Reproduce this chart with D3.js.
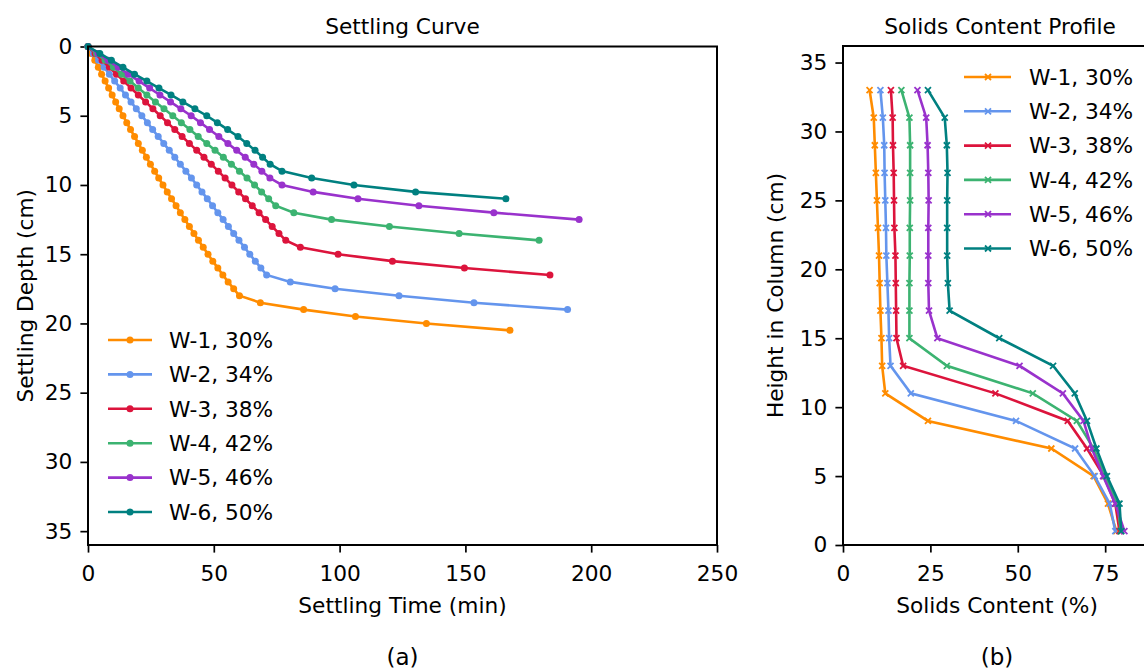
<!DOCTYPE html>
<html>
<head>
<meta charset="utf-8">
<script src="https://cdn.jsdelivr.net/npm/d3@7"></script>
<style>
body{margin:0;background:#fff;}
svg text{font-family:"DejaVu Sans",sans-serif;fill:#000;}
</style>
</head>
<body>
<div id="chart"></div>
<script>
// series names / colors
const seriesNames = ["W-1, 30%","W-2, 34%","W-3, 38%","W-4, 42%","W-5, 46%","W-6, 50%"];
const seriesColors = ["#FF8C00","#6495ED","#DC143C","#3CB371","#9932CC","#008080"];

// (a) settling curve: time (min) vs depth (cm)
const timeW1 = [0,1.3,2.7,4.1,5.4,6.8,8.2,9.6,11.0,12.4,13.9,15.4,16.9,18.5,20.0,21.6,23.2,24.8,26.5,28.1,29.8,31.5,33.2,35.0,36.7,38.5,40.3,42.1,43.9,45.8,47.7,49.6,51.6,53.6,55.7,57.9,60.2,68.5,85.7,106.3,134.5,167.7];
const depthW1 = [0,0.5,1,1.5,2,2.5,3,3.5,4,4.5,5,5.5,6,6.5,7,7.5,8,8.5,9,9.5,10,10.5,11,11.5,12,12.5,13,13.5,14,14.5,15,15.5,16,16.5,17,17.5,18,18.5,19,19.5,20,20.5];
const timeW2 = [0,2.1,4.2,6.4,8.5,10.6,12.8,14.9,17.1,19.2,21.4,23.6,25.7,27.9,30.1,32.3,34.5,36.7,38.9,41.1,43.2,45.3,47.4,49.5,51.6,53.7,55.8,57.9,60.0,62.2,64.3,66.5,68.7,71.0,80.4,98.2,123.6,153.4,190.6];
const depthW2 = [0,0.5,1,1.5,2,2.5,3,3.5,4,4.5,5,5.5,6,6.5,7,7.5,8,8.5,9,9.5,10,10.5,11,11.5,12,12.5,13,13.5,14,14.5,15,15.5,16,16.5,17,17.5,18,18.5,19];
const timeW3 = [0,2.8,5.6,8.5,11.3,14.2,17.1,20.0,22.9,25.8,28.7,31.6,34.5,37.4,40.3,43.2,46.1,49.0,51.8,54.5,57.2,59.9,62.6,65.3,68.0,70.6,73.2,75.9,78.6,84.4,99.4,121.0,149.6,183.6];
const depthW3 = [0,0.5,1,1.5,2,2.5,3,3.5,4,4.5,5,5.5,6,6.5,7,7.5,8,8.5,9,9.5,10,10.5,11,11.5,12,12.5,13,13.5,14,14.5,15,15.5,16,16.5];
const timeW4 = [0,3.4,6.8,10.1,13.4,16.7,20.0,23.4,26.8,30.2,33.7,37.1,40.5,43.8,47.2,50.5,53.8,57.0,60.2,63.2,66.2,69.0,71.8,74.6,81.8,96.8,119.8,147.5,179.3];
const depthW4 = [0,0.5,1,1.5,2,2.5,3,3.5,4,4.5,5,5.5,6,6.5,7,7.5,8,8.5,9,9.5,10,10.5,11,11.5,12,12.5,13,13.5,14];
const timeW5 = [0,4.0,8.0,12.0,16.0,20.3,24.5,28.6,32.8,36.9,41.0,44.7,48.3,52.0,55.6,59.1,62.5,65.9,69.1,72.3,77.1,89.5,107.3,131.5,161.3,195.2];
const depthW5 = [0,0.5,1,1.5,2,2.5,3,3.5,4,4.5,5,5.5,6,6.5,7,7.5,8,8.5,9,9.5,10,10.5,11,11.5,12,12.5];
const timeW6 = [0,4.7,9.3,13.9,18.5,23.4,28.2,33.0,37.7,42.5,47.2,51.4,55.5,59.6,63.1,66.4,69.4,72.4,77.1,88.9,105.7,130.2,166.1];
const depthW6 = [0,0.5,1,1.5,2,2.5,3,3.5,4,4.5,5,5.5,6,6.5,7,7.5,8,8.5,9,9.5,10,10.5,11];

// (b) solids content profile: height (cm) vs solids (%)
const profileHeight = [33,31,29,27,25,23,21,19,17,15,13,11,9,7,5,3,1];
const solidsW1 = [7.6,8.8,9.1,9.4,9.7,10.0,10.3,10.5,10.7,11.0,11.2,12.1,24.3,59.6,71.7,75.8,78.2];
const solidsW2 = [10.7,11.4,11.8,11.9,12.1,12.3,12.4,12.7,13.0,13.2,13.6,19.4,49.5,66.4,72.0,76.3,77.9];
const solidsW3 = [13.7,14.2,14.3,14.5,14.6,14.7,15.0,15.1,15.2,15.3,17.2,43.6,64.3,69.8,74.6,77.9,79.1];
const solidsW4 = [16.7,19.0,19.2,19.2,19.2,19.1,19.1,19.0,19.0,19.0,29.7,54.3,66.9,71.7,75.0,78.5,79.5];
const solidsW5 = [21.3,23.8,24.2,24.4,24.5,24.4,24.4,24.4,24.6,27.0,50.5,62.9,68.8,71.2,74.4,77.9,80.5];
const solidsW6 = [24.3,29.1,29.7,29.9,29.8,29.8,29.8,30.0,30.5,44.7,60.1,66.3,69.8,72.5,75.5,79.1,79.6];

const leftTicksX = [0,50,100,150,200,250];
const leftTicksY = [0,5,10,15,20,25,30,35];
const rightTicksX = [0,25,50,75];
const rightTicksY = [0,5,10,15,20,25,30,35];

const settleTimes = [timeW1,timeW2,timeW3,timeW4,timeW5,timeW6];
const settleDepths = [depthW1,depthW2,depthW3,depthW4,depthW5,depthW6];
const solidsAll = [solidsW1,solidsW2,solidsW3,solidsW4,solidsW5,solidsW6];

const fs = 21.7; // base font size
const svg = d3.select("#chart").append("svg")
    .attr("width",1144).attr("height",670);

function styleAxis(g){
    g.select(".domain").remove();
    g.selectAll(".tick line").attr("stroke","#000").attr("stroke-width",1.7);
    g.selectAll(".tick text").style("font-size",fs+"px");
}

function makePanel(box, xDomain, yDomain, xTicks, yTicks){
    const x = d3.scaleLinear().domain(xDomain).range([box.left, box.right]);
    const y = d3.scaleLinear().domain(yDomain).range([box.bottom, box.top]);
    svg.append("g")
        .attr("transform","translate(0,"+box.bottom+")")
        .call(d3.axisBottom(x).tickValues(xTicks).tickFormat(d3.format("d")).tickSize(7.6).tickPadding(8))
        .call(styleAxis)
        .selectAll(".tick text").attr("dy","0.95em");
    svg.append("g")
        .attr("transform","translate("+box.left+",0)")
        .call(d3.axisLeft(y).tickValues(yTicks).tickFormat(d3.format("d")).tickSize(7.6).tickPadding(8))
        .call(styleAxis);
    return {x, y};
}

function frame(box){
    svg.append("rect")
        .attr("x",box.left).attr("y",box.top)
        .attr("width",box.right-box.left).attr("height",box.bottom-box.top)
        .attr("fill","none").attr("stroke","#000").attr("stroke-width",2);
}

// ---------- panel (a)
const boxA = {left:88, right:717, top:46.5, bottom:545};
// inverted depth axis: 0 on top
const a = makePanel(boxA, [0,250], [36,0], leftTicksX, leftTicksY);

const lineA = d3.line().x(d=>a.x(d[0])).y(d=>a.y(d[1]));
settleTimes.forEach((times,i)=>{
    const pts = times.map((t,j)=>[t, settleDepths[i][j]]);
    const g = svg.append("g");
    g.append("path").datum(pts)
        .attr("d",lineA).attr("fill","none")
        .attr("stroke",seriesColors[i]).attr("stroke-width",2.6);
    g.selectAll("circle").data(pts).join("circle")
        .attr("cx",d=>a.x(d[0])).attr("cy",d=>a.y(d[1]))
        .attr("r",3.5).attr("fill",seriesColors[i]);
});
frame(boxA);

// legend (a)
const legA = svg.append("g");
seriesNames.forEach((name,i)=>{
    const yy = 340 + i*34.4;
    legA.append("line").attr("x1",108).attr("x2",152).attr("y1",yy).attr("y2",yy)
        .attr("stroke",seriesColors[i]).attr("stroke-width",2.6);
    legA.append("circle").attr("cx",130).attr("cy",yy).attr("r",3.5).attr("fill",seriesColors[i]);
    legA.append("text").attr("x",169).attr("y",yy).attr("dy","0.36em")
        .style("font-size",fs+"px").text(name);
});

svg.append("text").attr("x",(boxA.left+boxA.right)/2).attr("y",34)
    .attr("text-anchor","middle").style("font-size","21.7px").text("Settling Curve");
svg.append("text").attr("x",(boxA.left+boxA.right)/2).attr("y",613)
    .attr("text-anchor","middle").style("font-size",fs+"px").text("Settling Time (min)");
svg.append("text").attr("transform","translate(33,"+((boxA.top+boxA.bottom)/2)+") rotate(-90)")
    .attr("text-anchor","middle").style("font-size",fs+"px").text("Settling Depth (cm)");
svg.append("text").attr("x",(boxA.left+boxA.right)/2).attr("y",665)
    .attr("text-anchor","middle").style("font-size","23px").text("(a)");

// ---------- panel (b)
const boxB = {left:843, right:1157.6, top:46, bottom:545};
const b = makePanel(boxB, [0,90], [0,36.2], rightTicksX, rightTicksY);

const lineB = d3.line().x(d=>b.x(d[0])).y(d=>b.y(d[1]));
const xMark = (cx,cy,s)=>"M"+(cx-s)+","+(cy-s)+"L"+(cx+s)+","+(cy+s)+"M"+(cx-s)+","+(cy+s)+"L"+(cx+s)+","+(cy-s);
solidsAll.forEach((vals,i)=>{
    const pts = vals.map((v,j)=>[v, profileHeight[j]]);
    const g = svg.append("g");
    g.append("path").datum(pts)
        .attr("d",lineB).attr("fill","none")
        .attr("stroke",seriesColors[i]).attr("stroke-width",2.6);
    g.selectAll(".mk").data(pts).join("path")
        .attr("class","mk")
        .attr("d",d=>xMark(b.x(d[0]),b.y(d[1]),3))
        .attr("stroke",seriesColors[i]).attr("stroke-width",1.8);
});
frame(boxB);

const legB = svg.append("g");
seriesNames.forEach((name,i)=>{
    const yy = 77 + i*34.3;
    legB.append("line").attr("x1",964).attr("x2",1011).attr("y1",yy).attr("y2",yy)
        .attr("stroke",seriesColors[i]).attr("stroke-width",2.6);
    legB.append("path").attr("d",xMark(988,yy,3))
        .attr("stroke",seriesColors[i]).attr("stroke-width",1.8);
    legB.append("text").attr("x",1029).attr("y",yy).attr("dy","0.36em")
        .style("font-size",fs+"px").text(name);
});

svg.append("text").attr("x",1000).attr("y",34)
    .attr("text-anchor","middle").style("font-size","21.7px").text("Solids Content Profile");
svg.append("text").attr("x",997).attr("y",613)
    .attr("text-anchor","middle").style("font-size",fs+"px").text("Solids Content (%)");
svg.append("text").attr("transform","translate(783,"+((boxB.top+boxB.bottom)/2)+") rotate(-90)")
    .attr("text-anchor","middle").style("font-size",fs+"px").text("Height in Column (cm)");
svg.append("text").attr("x",997).attr("y",665)
    .attr("text-anchor","middle").style("font-size","23px").text("(b)");
</script>
</body>
</html>
